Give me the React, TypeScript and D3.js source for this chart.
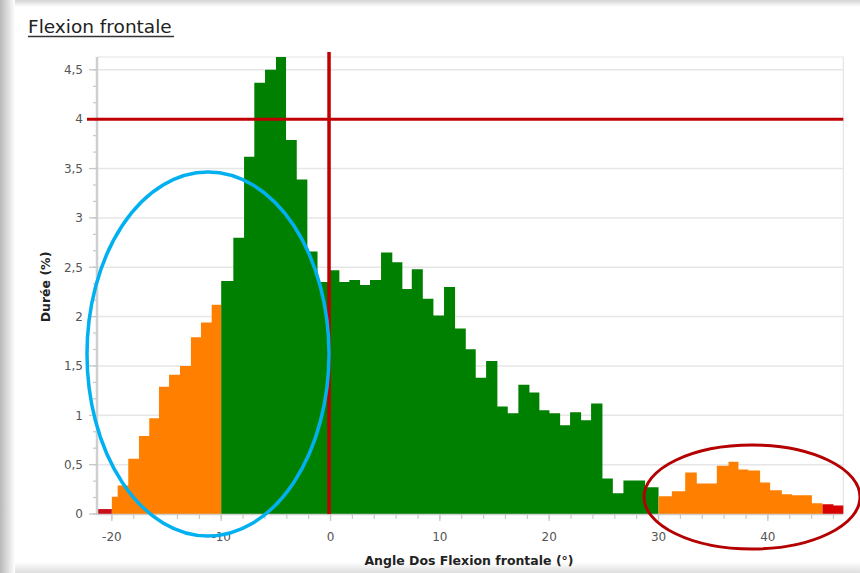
import React from "react";
import * as d3 from "d3";

// ---- Data ----
const binStarts = [
  -21.36, -20, -19.47, -18.5, -17.52, -16.58, -15.69, -14.77, -13.77, -12.77, -11.85, -10.87,
  -10, -8.89, -7.91, -6.97, -5.99, -4.99, -4.07, -3.09, -2.12, -1.19, -0.2, 0.81, 1.72, 2.7,
  3.61, 4.62, 5.65, 6.57, 7.43, 8.44, 9.41, 10.38, 11.39, 12.37, 13.28, 14.23, 15.26, 16.21,
  17.18, 18.19, 19.1, 20.02, 21.0, 21.91, 22.92, 23.83, 24.87, 25.82, 26.79, 27.77, 28.77,
  30, 31.22, 32.44, 33.5, 34.42, 35.33, 36.4, 37.31, 38.22, 39.29, 40.21, 41.28, 42.2, 43.11,
  44.03, 45, 46.0,
];
const lastBinEnd = 46.9;
const durations = [
  0.05, 0.175, 0.29, 0.56, 0.79, 0.97, 1.29, 1.41, 1.5, 1.79, 1.94, 2.12,
  2.36, 2.8, 3.62, 4.37, 4.5, 4.63, 3.79, 3.39, 2.66, 2.35, 2.47, 2.35, 2.37, 2.32,
  2.37, 2.65, 2.55, 2.28, 2.48, 2.18, 2.01, 2.3, 1.88, 1.67, 1.38, 1.55, 1.09, 1.02,
  1.31, 1.23, 1.05, 1.02, 0.9, 1.03, 0.95, 1.12, 0.36, 0.21, 0.34, 0.34, 0.27,
  0.18, 0.23, 0.42, 0.31, 0.31, 0.49, 0.53, 0.45, 0.44, 0.32, 0.24, 0.2, 0.19, 0.19,
  0.11, 0.1, 0.085,
];
const zoneBounds = [-20, -10, 30, 45];
const zoneColors = ["#c8101a", "#ff8000", "#008000", "#ff8000", "#d80000"];
const xMajorTicks = [-20, -10, 0, 10, 20, 30, 40];
const yMajorTicks = [0, 0.5, 1, 1.5, 2, 2.5, 3, 3.5, 4, 4.5];
const yTickLabels = ["0", "0,5", "1", "1,5", "2", "2,5", "3", "3,5", "4", "4,5"];
const thresholdDuration = 4;
const thresholdAngle = 0;
const titleText = "Flexion frontale";
const xAxisTitle = "Angle Dos Flexion frontale (°)";
const yAxisTitle = "Durée (%)";

const W = 860;
const H = 573;
const plot = { left: 97, right: 843.3, top: 57, bottom: 514 };

type Pt = { a: number; v: number };

export default function App() {
  const x = d3.scaleLinear().domain([binStarts[0], lastBinEnd]).range([plot.left, plot.right]);
  const y = d3.scaleLinear().domain([0, 4.63]).range([plot.bottom, plot.top]);
  const zone = d3.scaleThreshold<number, string>().domain(zoneBounds).range(zoneColors);

  const bins = binStarts.map((s, i) => {
    const e = i + 1 < binStarts.length ? binStarts[i + 1] : lastBinEnd;
    return { s, e, v: durations[i], c: zone((s + e) / 2) };
  });

  // group consecutive bins of the same colour into one step area
  const runs: { c: string; pts: Pt[] }[] = [];
  bins.forEach((b) => {
    let r = runs[runs.length - 1];
    if (!r || r.c !== b.c) {
      r = { c: b.c, pts: [] };
      runs.push(r);
    }
    r.pts.push({ a: b.s, v: b.v });
  });
  runs.forEach((r, i) => {
    const next = runs[i + 1];
    const end = next ? next.pts[0].a : lastBinEnd;
    r.pts.push({ a: end, v: r.pts[r.pts.length - 1].v });
  });

  const area = d3
    .area<Pt>()
    .x((d) => x(d.a))
    .y0(y(0))
    .y1((d) => y(d.v))
    .curve(d3.curveStepAfter);

  const xMinor = d3.range(-20, 47, 2);
  const yMinor = d3.range(0, 28).map((i) => i / 6).filter((v) => v <= 4.63);

  const font = "'DejaVu Sans', Verdana, sans-serif";

  return (
    <div style={{ position: "fixed", left: 0, top: 0 }}>
      <svg width={W} height={H} style={{ display: "block" }}>
        <defs>
          <linearGradient id="lg" x1="0" x2="1" y1="0" y2="0">
            <stop offset="0" stopColor="#b8b8b8" />
            <stop offset="1" stopColor="#ffffff" />
          </linearGradient>
          <linearGradient id="tg" x1="0" x2="0" y1="0" y2="1">
            <stop offset="0" stopColor="#d4d4d4" />
            <stop offset="1" stopColor="#ffffff" />
          </linearGradient>
          <linearGradient id="bg" x1="0" x2="0" y1="0" y2="1">
            <stop offset="0" stopColor="#ffffff" />
            <stop offset="1" stopColor="#dedede" />
          </linearGradient>
        </defs>
        <rect x={0} y={0} width={W} height={H} fill="#fff" />
        <rect x={0} y={0} width={W} height={7} fill="url(#tg)" />
        <rect x={0} y={562} width={W} height={11} fill="url(#bg)" />
        <rect x={0} y={0} width={15} height={H} fill="url(#lg)" />

        {/* Title */}
        <text x={28} y={33} fontFamily={font} fontSize={18.5} fill="#222">
          {titleText}
        </text>
        <line x1={28} x2={174} y1={36.5} y2={36.5} stroke="#333" strokeWidth={1.3} />

        {/* Gridlines */}
        {yMajorTicks.filter((v) => v > 0).map((v) => (
          <line key={"g" + v} x1={plot.left} x2={plot.right} y1={y(v)} y2={y(v)} stroke="#e6e6e6" strokeWidth={1.5} />
        ))}
        {/* Plot frame */}
        <line x1={plot.left} x2={plot.right} y1={plot.top} y2={plot.top} stroke="#e4e4e4" strokeWidth={1.2} />
        <line x1={plot.right} x2={plot.right} y1={plot.top} y2={plot.bottom} stroke="#e4e4e4" strokeWidth={1.2} />

        {/* Histogram */}
        {runs.map((r, i) => (
          <path key={"r" + i} d={area(r.pts) || ""} fill={r.c} />
        ))}

        {/* Axes */}
        <line x1={plot.left} x2={plot.left} y1={plot.top} y2={plot.bottom + 1} stroke="#cfcfcf" strokeWidth={2.5} />
        <line x1={plot.left} x2={plot.right} y1={plot.bottom + 0.5} y2={plot.bottom + 0.5} stroke="#cfcfcf" strokeWidth={1.5} />
        {yMinor.map((v) => (
          <line key={"ym" + v} x1={plot.left - 4} x2={plot.left} y1={y(v)} y2={y(v)} stroke="#c8c8c8" strokeWidth={1.2} />
        ))}
        {yMajorTicks.map((v, i) => (
          <g key={"yt" + v}>
            <line x1={plot.left - 8} x2={plot.left} y1={y(v)} y2={y(v)} stroke="#c8c8c8" strokeWidth={1.3} />
            <text x={83} y={y(v) + 4.3} textAnchor="end" fontFamily={font} fontSize={12} fill="#555">
              {yTickLabels[i]}
            </text>
          </g>
        ))}
        {xMinor.map((v) => (
          <line key={"xm" + v} x1={x(v)} x2={x(v)} y1={plot.bottom} y2={plot.bottom + 5} stroke="#c8c8c8" strokeWidth={1.2} />
        ))}
        {xMajorTicks.map((v) => (
          <g key={"xt" + v}>
            <line x1={x(v)} x2={x(v)} y1={plot.bottom} y2={plot.bottom + 7} stroke="#c8c8c8" strokeWidth={1.3} />
            <text x={x(v)} y={541} textAnchor="middle" fontFamily={font} fontSize={12} fill="#555">
              {v}
            </text>
          </g>
        ))}

        {/* Axis titles */}
        <text x={469} y={565} textAnchor="middle" fontFamily={font} fontSize={12.5} fontWeight="bold" fill="#222">
          {xAxisTitle}
        </text>
        <text
          transform={`translate(50,287) rotate(-90)`}
          textAnchor="middle"
          fontFamily={font}
          fontSize={12.5}
          fontWeight="bold"
          fill="#222"
        >
          {yAxisTitle}
        </text>

        {/* Threshold lines */}
        <line x1={87} x2={plot.right} y1={y(thresholdDuration)} y2={y(thresholdDuration)} stroke="#c00000" strokeWidth={3} />
        <line x1={x(thresholdAngle) - 1.5} x2={x(thresholdAngle) - 1.5} y1={52} y2={plot.bottom} stroke="#c00000" strokeWidth={3.5} />

        {/* Annotations */}
        <ellipse cx={208} cy={354} rx={121} ry={182} fill="none" stroke="#00b0f0" strokeWidth={3.5} />
        <ellipse cx={752} cy={497} rx={108} ry={52} fill="none" stroke="#b40000" strokeWidth={3} />
      </svg>
    </div>
  );
}
